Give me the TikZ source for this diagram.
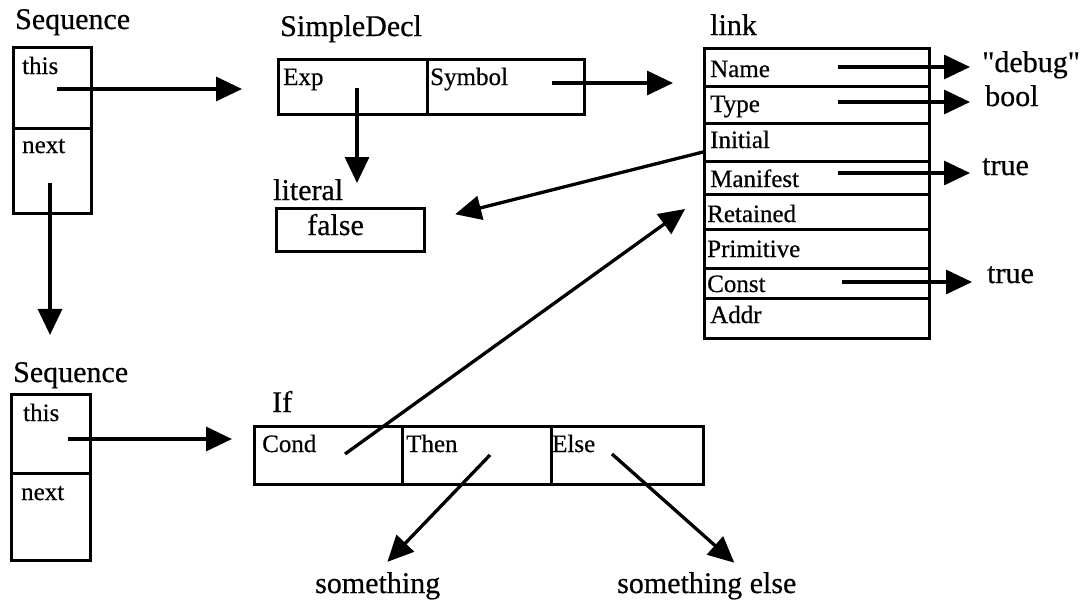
\documentclass[tikz,border=0pt]{standalone}
\usepackage{fontspec}
\setmainfont{Liberation Serif}[FakeBold=0.5]
\newfontfamily\straightquotes{Liberation Serif}[Ligatures=TeXOff,FakeBold=0.5]
\usetikzlibrary{arrows.meta}
\begin{document}
\begin{tikzpicture}[x=1pt,y=-1pt,
  cell/.style={draw, line width=3.1pt, inner sep=0pt, anchor=north west},
  head/.style={font=\fontsize{30}{32}\selectfont, inner sep=0pt, anchor=base west},
  field/.style={font=\fontsize{25}{27}\selectfont, inner sep=0pt, anchor=base west},
  ptr/.style={line width=3.3pt, -{Triangle[length=26pt,width=24pt]}}]

\useasboundingbox (0,0) rectangle (1089,605);

% ---- first Sequence record
\node[head] (seqA) at (15,29) {Sequence};
\node[cell, minimum width=78pt, minimum height=81pt] (s1this) at (12,46) {};
\node[cell, minimum width=78pt, minimum height=85pt] (s1next) at (12,127) {};
\node[field] (t1this) at (22,74) {this};
\node[field] (t1next) at (22,153) {next};

% ---- SimpleDecl record
\node[head] (sdHead) at (280,36) {SimpleDecl};
\node[cell, minimum width=149pt, minimum height=55pt] (sdExp) at (277,58) {};
\node[cell, minimum width=157pt, minimum height=55pt] (sdSym) at (426,58) {};
\node[field] (tExp) at (283,85) {Exp};
\node[field] (tSym) at (430,85) {Symbol};

% ---- literal
\node[head] (litHead) at (273,200) {literal};
\node[cell, minimum width=148pt, minimum height=43pt] (litBox) at (275,207) {};
\node[head] (tFalse) at (307,235) {false};

% ---- link record
\node[head] (linkHead) at (710,35) {link};
\node[cell, minimum width=225pt, minimum height=38pt] (lName)  at (703,47)  {};
\node[cell, minimum width=225pt, minimum height=37pt] (lType)  at (703,85)  {};
\node[cell, minimum width=225pt, minimum height=38pt] (lInit)  at (703,122) {};
\node[cell, minimum width=225pt, minimum height=33pt] (lMan)   at (703,160) {};
\node[cell, minimum width=225pt, minimum height=35pt] (lRet)   at (703,193) {};
\node[cell, minimum width=225pt, minimum height=39pt] (lPrim)  at (703,228) {};
\node[cell, minimum width=225pt, minimum height=30pt] (lConst) at (703,267) {};
\node[cell, minimum width=225pt, minimum height=40pt] (lAddr)  at (703,297) {};
\node[field] (tName)  at (710,77)  {Name};
\node[field] (tType)  at (710,112) {Type};
\node[field] (tInit)  at (710,148) {Initial};
\node[field] (tMan)   at (710,187) {Manifest};
\node[field] (tRet)   at (707,222) {Retained};
\node[field] (tPrim)  at (707,257) {Primitive};
\node[field] (tConst) at (707,292) {Const};
\node[field] (tAddr)  at (710,323) {Addr};

% ---- values of the link fields
\node[head] (debug) at (982,72)  {\straightquotes "debug"};
\node[head] (bool)  at (985,106) {bool};
\node[head] (trueA) at (982,175) {true};
\node[head] (trueB) at (987,283) {true};

% ---- second Sequence record
\node[head] (seqB) at (13,382) {Sequence};
\node[cell, minimum width=79pt, minimum height=79pt] (s2this) at (10,393) {};
\node[cell, minimum width=79pt, minimum height=87pt] (s2next) at (10,472) {};
\node[field] (t2this) at (23,421) {this};
\node[field] (t2next) at (21,500) {next};

% ---- If record
\node[head] (ifHead) at (272,412) {If};
\node[cell, minimum width=148pt, minimum height=58pt] (ifCond) at (253,425) {};
\node[cell, minimum width=149pt, minimum height=58pt] (ifThen) at (401,425) {};
\node[cell, minimum width=152pt, minimum height=58pt] (ifElse) at (550,425) {};
\node[field] (tCond) at (262,452) {Cond};
\node[field] (tThen) at (406,452) {Then};
\node[field] (tElse) at (552,452) {Else};
\node[head] (something) at (315,593) {something};
\node[head] (selse) at (617,593) {something else};

% ---- pointer tails
\coordinate (s1thisT) at (57,89);
\coordinate (s1nextT) at (50,183);
\coordinate (s2thisT) at (68,439);
\coordinate (expT) at (357,88);
\coordinate (symT) at (552,83);
\coordinate (initT) at (703,152);
\coordinate (nameT) at (838,67);
\coordinate (typeT) at (838,102);
\coordinate (manT) at (838,173);
\coordinate (constT) at (842,282);
\coordinate (condT) at (345,454);
\coordinate (thenT) at (490,455);
\coordinate (elseT) at (612,454);

% ---- pointers
\draw[ptr, shorten >=35pt] (s1thisT) -- (s1thisT -| sdExp.west);
\draw[ptr, shorten >=27pt] (s1nextT) -- (s1nextT |- seqB.north);
\draw[ptr, shorten >=21pt] (s2thisT) -- (s2thisT -| ifCond.west);
\draw[ptr, shorten >=24pt] (expT) -- (expT |- litBox.north);
\draw[ptr, shorten >=30pt] (symT) -- (symT -| lName.west);
\draw[ptr, shorten >=30pt] (initT) -- ([yshift=8.5pt]litBox.east);
\draw[ptr, shorten >=12pt] (nameT) -- (nameT -| debug.west);
\draw[ptr, shorten >=15pt] (typeT) -- (typeT -| bool.west);
\draw[ptr, shorten >=12pt] (manT) -- (manT -| trueA.west);
\draw[ptr, shorten >=15pt] (constT) -- (constT -| trueB.west);
\draw[ptr, shorten >=22pt] (condT) -- (lMan.south west);
\draw[ptr, shorten >=14pt] (thenT) -- (something.north);
\draw[ptr, shorten >=14pt] (elseT) -- ([xshift=38pt]selse.north);
\end{tikzpicture}
\end{document}
